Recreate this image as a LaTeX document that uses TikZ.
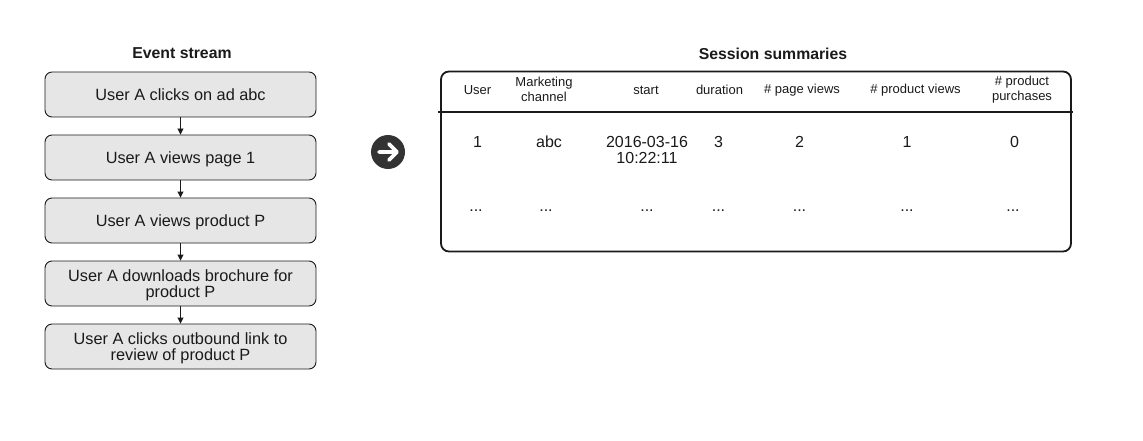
\documentclass[tikz,border=0pt]{standalone}
\usepackage{fontspec}
\setmainfont{Liberation Sans}
\usetikzlibrary{arrows.meta}
\definecolor{boxfill}{HTML}{E6E6E6}
\definecolor{ink}{HTML}{1A1A1A}
\definecolor{circ}{HTML}{333333}
\newcommand{\lowtext}[1]{\raisebox{-2.5pt}[\height][\depth]{\begin{tabular}{@{}c@{}}#1\end{tabular}}}
\begin{document}
\begin{tikzpicture}[x=1pt,y=-1pt,
  evbox/.style={draw=ink,line width=0.9pt,fill=boxfill,rounded corners=7pt,
    minimum width=271pt,minimum height=45pt,inner sep=0pt,align=center,text=ink,
    font=\fontsize{16.3}{16.3}\selectfont},
  flow/.style={draw=ink,line width=0.9pt,-{Triangle[length=6pt,width=6pt]}},
  ttl/.style={font=\fontsize{15.8}{16}\selectfont\bfseries,text=ink,inner sep=0pt},
  hdr/.style={font=\fontsize{13}{14.4}\selectfont,text=ink,align=center,inner sep=0pt},
  val/.style={font=\fontsize{16}{16.6}\selectfont,text=ink,align=center,inner sep=0pt},
  tblbox/.style={draw=ink,line width=1.8pt,rounded corners=8pt,minimum width=630pt,minimum height=180pt,inner sep=0pt}
]
\useasboundingbox (0,0) rectangle (1143,441);

% Event stream
\node[ttl] (t1) at (182,53.5) {Event stream};
\node[evbox] (e1) at (180.5,94.5) {\lowtext{User A clicks on ad abc}};
\node[evbox] (e2) at (180.5,157.5) {\lowtext{User A views page 1}};
\node[evbox] (e3) at (180.5,220.5) {\lowtext{User A views product P}};
\node[evbox] (e4) at (180.5,283.5) {\lowtext{User A downloads brochure for\\product P}};
\node[evbox] (e5) at (180.5,346.5) {\lowtext{User A clicks outbound link to\\review of product P}};
\draw[flow] (e1) -- (e2);
\draw[flow] (e2) -- (e3);
\draw[flow] (e3) -- (e4);
\draw[flow] (e4) -- (e5);

% Arrow circle
\node[circle,fill=circ,minimum size=34pt,inner sep=0pt] (arr) at (388,152) {};
\draw[white,line width=3.6pt,line cap=round,line join=round]
  ([xshift=-9pt]arr.center) -- ([xshift=8pt]arr.center)
  ([xshift=1pt,yshift=8pt]arr.center) -- ([xshift=9pt]arr.center) -- ([xshift=1pt,yshift=-8pt]arr.center);

% Session summaries
\node[ttl] (t2) at (773,53.5) {Session summaries};
\node[tblbox] (tbl) at (756,161.5) {};
\coordinate (sepL) at (438,111.7);
\coordinate (sepR) at (1073,111.7);
\draw[ink,line width=2pt] (sepL) -- (sepR);

\node[hdr] (h1) at (477.5,90) {User};
\node[hdr] (h2) at (544,89.5) {Marketing\\channel};
\node[hdr] (h3) at (646,90) {start};
\node[hdr] (h4) at (719.5,90) {duration};
\node[hdr] (h5) at (802,90) {\# page views};
\node[hdr] (h6) at (915.5,90) {\# product views};
\node[hdr] (h7) at (1022,89.5) {\# product\\purchases};

\node[val] (v1) at (477.5,141.5) {1};
\node[val] (v2) at (549,141.5) {abc};
\node[val] (v3) at (647,149.8) {2016-03-16\\10:22:11};
\node[val] (v4) at (718.5,141.5) {3};
\node[val] (v5) at (799.5,141.5) {2};
\node[val] (v6) at (907,141.5) {1};
\node[val] (v7) at (1014.5,141.5) {0};

\node[val] (d1) at (476,211) {...};
\node[val] (d2) at (546,211) {...};
\node[val] (d3) at (647,211) {...};
\node[val] (d4) at (718.5,211) {...};
\node[val] (d5) at (799.5,211) {...};
\node[val] (d6) at (907,211) {...};
\node[val] (d7) at (1013,211) {...};
\end{tikzpicture}
\end{document}
